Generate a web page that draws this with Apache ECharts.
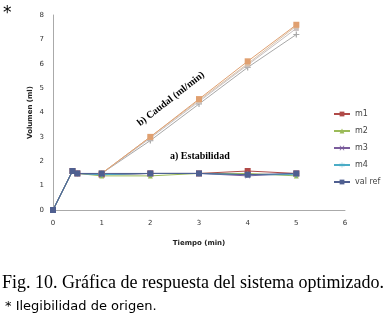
<!DOCTYPE html>
<html lang="es">
<head>
    <meta charset="UTF-8">
    <title>Gráfica de respuesta</title>
    <script src="https://cdn.jsdelivr.net/npm/echarts@6/dist/echarts.min.js"></script>
    <style>
        body { margin: 0; background: #fff; }
        #main { width: 388px; height: 320px; }
    </style>
</head>
<body>
<div id="main"></div>
<script type="text/javascript">
    // estabilidad
    let tiempoEst = [0, 0.4, 0.5, 1, 2, 3, 4, 5];
    let m1 = [0, 1.6, 1.5, 1.45, 1.5, 1.5, 1.6, 1.5];
    let m2 = [0, 1.6, 1.5, 1.4, 1.4, 1.5, 1.5, 1.4];
    let m3 = [0, 1.6, 1.5, 1.45, 1.5, 1.5, 1.4, 1.5];
    let m4 = [0, 1.6, 1.5, 1.45, 1.5, 1.5, 1.45, 1.45];
    let valRef = [0, 1.6, 1.5, 1.5, 1.5, 1.5, 1.45, 1.5];

    // caudal
    let tiempoCau = [1, 2, 3, 4, 5];
    let c1 = [1.5, 3.0, 4.55, 6.1, 7.6];
    let c2 = [1.5, 3.0, 4.5, 6.0, 7.55];
    let c3 = [1.5, 2.95, 4.45, 5.95, 7.45];
    let c4 = [1.5, 2.85, 4.35, 5.85, 7.2];

    let plus = 'path://M4,0 L6,0 L6,4 L10,4 L10,6 L6,6 L6,10 L4,10 L4,6 L0,6 L0,4 L4,4 Z';
    let cross = 'path://M1,0 L5,4 L9,0 L10,1 L6,5 L10,9 L9,10 L5,6 L1,10 L0,9 L4,5 L0,1 Z';
    let star = 'path://M4.5,0 L5.5,0 L5.5,4 L9,2 L9.5,3 L6,5 L9.5,7 L9,8 L5.5,6 L5.5,10 L4.5,10 L4.5,6 L1,8 L0.5,7 L4,5 L0.5,3 L1,2 L4.5,4 Z';

    function pairs(xs, ys) {
        return xs.map(function (x, i) {
            return [x, ys[i]];
        });
    }

    function lineSeries(name, xs, ys, color, symbol, size) {
        return {
            name: name,
            type: 'line',
            data: pairs(xs, ys),
            symbol: symbol,
            symbolSize: size,
            lineStyle: {color: color, width: 1},
            itemStyle: {color: color},
            animation: false
        };
    }

    let chart = echarts.init(document.getElementById('main'));
    let option = {
        backgroundColor: '#fff',
        animation: false,
        grid: {
            left: 53,
            right: 43,
            top: 15,
            bottom: 110
        },
        legend: {
            orient: 'vertical',
            left: 328,
            top: 105,
            itemWidth: 16,
            itemHeight: 6,
            itemGap: 9,
            textStyle: {fontSize: 8, color: '#444', fontFamily: 'DejaVu Sans'},
            data: ['m1', 'm2', 'm3', 'm4', 'val ref']
        },
        xAxis: {
            type: 'value',
            min: 0,
            max: 6,
            interval: 1,
            name: 'Tiempo (min)',
            nameLocation: 'middle',
            nameGap: 30,
            nameTextStyle: {fontSize: 7, fontWeight: 'bold', color: '#222', fontFamily: 'DejaVu Sans'},
            axisLine: {lineStyle: {color: '#aaa'}},
            axisTick: {show: false},
            axisLabel: {fontSize: 7, color: '#333', margin: 10, fontFamily: 'DejaVu Sans'},
            splitLine: {show: false}
        },
        yAxis: {
            type: 'value',
            min: 0,
            max: 8,
            interval: 1,
            name: 'Volumen (ml)',
            nameLocation: 'middle',
            nameGap: 19,
            nameMoveOverlap: false,
            nameTextStyle: {fontSize: 7, fontWeight: 'bold', color: '#222', fontFamily: 'DejaVu Sans'},
            axisLine: {show: true, lineStyle: {color: '#aaa'}},
            axisTick: {show: false},
            axisLabel: {fontSize: 7, color: '#333', margin: 9, fontFamily: 'DejaVu Sans'},
            splitLine: {show: false}
        },
        series: [
            lineSeries('c4', tiempoCau, c4, '#a8a8a8', plus, 6),
            lineSeries('c3', tiempoCau, c3, '#c8c0c0', 'rect', 5),
            lineSeries('c2', tiempoCau, c2, '#d8c0a8', 'rect', 5),
            lineSeries('c1', tiempoCau, c1, '#e0a070', 'rect', 6),
            lineSeries('m1', tiempoEst, m1, '#b04a48', 'rect', 6),
            lineSeries('m2', tiempoEst, m2, '#9bbb59', 'triangle', 5),
            lineSeries('m3', tiempoEst, m3, '#7a5c9c', cross, 5),
            lineSeries('m4', tiempoEst, m4, '#4bacc6', star, 6),
            lineSeries('val ref', tiempoEst, valRef, '#4f5f90', 'rect', 6)
        ],
        graphic: [
            {
                type: 'text', left: 3, top: 5,
                style: {text: '*', fontSize: 17, fill: '#000', fontFamily: 'DejaVu Sans'}
            },
            {
                type: 'text', x: 171, y: 99, rotation: 38 * Math.PI / 180,
                style: {
                    text: 'b) Caudal (ml/min)', fontSize: 10, fontWeight: 'bold',
                    fontFamily: 'Liberation Serif', fill: '#000',
                    align: 'center', verticalAlign: 'middle'
                }
            },
            {
                type: 'text', left: 170, top: 151,
                style: {
                    text: 'a) Estabilidad', fontSize: 10, fontWeight: 'bold',
                    fontFamily: 'Liberation Serif', fill: '#000'
                }
            },
            {
                type: 'text', left: 2, top: 274,
                style: {
                    text: 'Fig. 10. Gráfica de respuesta del sistema optimizado.',
                    fontSize: 18, fontFamily: 'Liberation Serif', fill: '#000'
                }
            },
            {
                type: 'text', left: 5, top: 300,
                style: {
                    text: '* Ilegibilidad de origen.',
                    fontSize: 13, fontFamily: 'DejaVu Sans', fill: '#000'
                }
            }
        ]
    };

    chart.setOption(option);
</script>
</body>
</html>
